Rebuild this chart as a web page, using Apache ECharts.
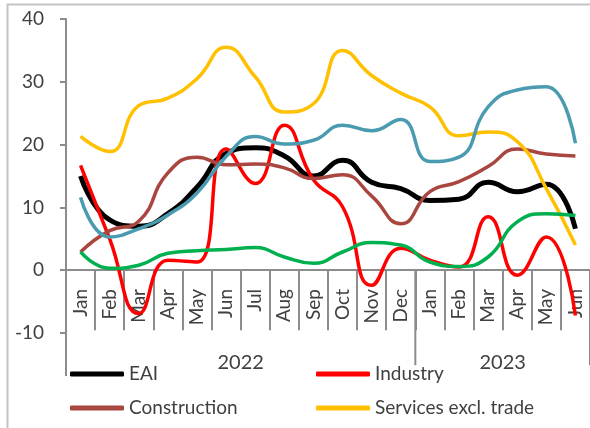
<!DOCTYPE html>
<html>
<head>
<meta charset="utf-8">
<script src="https://cdn.jsdelivr.net/npm/echarts@6/dist/echarts.min.js"></script>
<style>
  html, body { margin: 0; padding: 0; background: #fff; }
  #eai-chart { width: 590px; height: 428px; }
</style>
</head>
<body>
<div id="eai-chart"></div>
<script>
// monthly categories, Jan 2022 .. Jun 2023
var months = ['Jan', 'Feb', 'Mar', 'Apr', 'May', 'Jun', 'Jul', 'Aug', 'Sep', 'Oct', 'Nov', 'Dec',
              'Jan', 'Feb', 'Mar', 'Apr', 'May', 'Jun'];
var years = ['2022', '2023'];
var yTicks = [-10, 0, 10, 20, 30, 40];

var eai          = [15.0, 8.0, 7.0, 9.0, 13.2, 18.6, 19.5, 18.2, 15.0, 17.5, 14.0, 13.0, 11.1, 11.3, 14.0, 12.5, 13.7, 6.6];
var industry     = [16.7, 5.0, -6.9, 1.6, 1.3, 19.3, 13.8, 23.1, 14.4, 10.1, -2.4, 3.5, 1.6, 0.5, 8.5, -0.8, 5.3, -7.2];
var construction = [2.9, 6.3, 7.8, 15.5, 18.0, 16.8, 16.9, 16.3, 14.6, 15.2, 11.8, 7.4, 12.5, 14.1, 16.5, 19.3, 18.5, 18.2];
var services     = [21.3, 18.9, 26.2, 27.4, 30.5, 35.5, 30.8, 25.2, 26.5, 35.0, 31.0, 28.2, 26.0, 21.4, 22.0, 20.5, 13.0, 4.0];
var seriesFive   = [11.6, 5.3, 6.6, 8.8, 12.3, 18.1, 21.3, 20.1, 20.7, 23.1, 22.2, 24.0, 17.3, 18.0, 26.0, 28.7, 29.2, 20.2];
var seriesSix    = [2.9, 0.3, 0.8, 2.7, 3.1, 3.3, 3.6, 2.1, 1.1, 2.9, 4.4, 4.0, 1.3, 0.6, 2.1, 7.7, 9.0, 8.7];

var chartDom = document.getElementById('eai-chart');
var myChart = echarts.init(chartDom);
var option;

var font = 'Lato, "Open Sans", sans-serif';
var textGrey = '#404040';
var axisGrey = '#8c8c8c';

function line(name, data, color, width) {
  return {
    name: name,
    type: 'line',
    data: data,
    smooth: 0.5,
    symbol: 'none',
    lineStyle: { color: color, width: width },
    itemStyle: { color: color }
  };
}

function legendBox(left, names) {
  return {
    orient: 'vertical', left: left, top: 363, padding: 0,
    itemWidth: 54, itemHeight: 5, itemGap: 12,
    icon: 'roundRect',
    data: names,
    textStyle: { color: textGrey, fontFamily: font, fontSize: 19, lineHeight: 22 }
  };
}

option = {
  animation: false,
  grid: { left: 66, top: 19, width: 527, height: 314 },
  xAxis: {
    type: 'category',
    data: months,
    boundaryGap: true,
    axisLine: { onZero: true, lineStyle: { color: axisGrey, width: 2 } },
    axisTick: { show: true, alignWithLabel: false, length: 60, lineStyle: { color: axisGrey, width: 2 } },
    axisLabel: {
      rotate: 90, margin: -44, interval: 0,
      color: textGrey, fontFamily: font, fontSize: 19
    }
  },
  yAxis: {
    type: 'value',
    min: yTicks[0],
    max: yTicks[yTicks.length - 1],
    interval: 10,
    splitLine: { show: false },
    axisLine: { show: true, lineStyle: { color: axisGrey, width: 2 } },
    axisTick: { show: true, length: 6, lineStyle: { color: axisGrey, width: 2 } },
    axisLabel: { margin: 22, color: textGrey, fontFamily: font, fontSize: 19 }
  },
  legend: [
    legendBox(70, ['EAI', 'Construction']),
    legendBox(316, ['Industry', 'Services excl. trade'])
  ],
  series: [
    line('EAI', eai, '#000000', 5),
    line('Industry', industry, '#ff0000', 3.5),
    line('Construction', construction, '#a8463f', 3.5),
    line('Services excl. trade', services, '#ffc000', 3.5),
    line('Series 5', seriesFive, '#4a9bb0', 3.5),
    line('Series 6', seriesSix, '#00b050', 3.5)
  ]
};
option && myChart.setOption(option);

// year group labels and separators, placed from the axis scales
var p0 = myChart.convertToPixel({ xAxisIndex: 0 }, 0);
var p1 = myChart.convertToPixel({ xAxisIndex: 0 }, 1);
var band = p1 - p0;
var leftEdge = p0 - band / 2;
var split = myChart.convertToPixel({ xAxisIndex: 0 }, 11) + band / 2;
var rightEdge = myChart.convertToPixel({ xAxisIndex: 0 }, months.length - 1) + band / 2;
var zeroY = myChart.convertToPixel({ yAxisIndex: 0 }, 0);
var bottomY = myChart.convertToPixel({ yAxisIndex: 0 }, yTicks[0]);
var mid22 = (myChart.convertToPixel({ xAxisIndex: 0 }, 5) + myChart.convertToPixel({ xAxisIndex: 0 }, 6)) / 2;
var mid23 = (myChart.convertToPixel({ xAxisIndex: 0 }, 14) + myChart.convertToPixel({ xAxisIndex: 0 }, 15)) / 2;

myChart.setOption({
  graphic: [
    {
      type: 'rect', silent: true,
      shape: { x: 7.5, y: 4.5, width: 700, height: 600 },
      style: { fill: 'none', stroke: '#c4c4c4', lineWidth: 2 }
    },
    {
      type: 'line', silent: true,
      shape: { x1: leftEdge, y1: bottomY, x2: leftEdge, y2: bottomY + 43 },
      style: { stroke: axisGrey, lineWidth: 2 }
    },
    {
      type: 'line', silent: true,
      shape: { x1: split, y1: zeroY, x2: split, y2: zeroY + 95 },
      style: { stroke: axisGrey, lineWidth: 2 }
    },
    {
      type: 'line', silent: true,
      shape: { x1: rightEdge, y1: zeroY, x2: rightEdge, y2: zeroY + 95 },
      style: { stroke: axisGrey, lineWidth: 2 }
    },
    {
      type: 'text', silent: true, x: mid22, y: zeroY + 92,
      style: { text: years[0], fill: textGrey, font: '20px ' + font, textAlign: 'center', textVerticalAlign: 'middle' }
    },
    {
      type: 'text', silent: true, x: mid23, y: zeroY + 92,
      style: { text: years[1], fill: textGrey, font: '20px ' + font, textAlign: 'center', textVerticalAlign: 'middle' }
    }
  ]
});
</script>
</body>
</html>
